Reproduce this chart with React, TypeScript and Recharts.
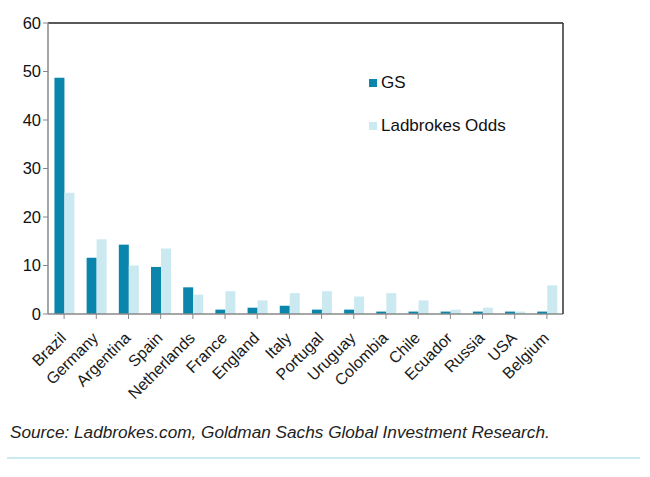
import React from 'react';
import { BarChart, Bar, XAxis, YAxis, ReferenceLine } from 'recharts';

const teams = ['Brazil', 'Germany', 'Argentina', 'Spain', 'Netherlands', 'France', 'England', 'Italy', 'Portugal', 'Uruguay', 'Colombia', 'Chile', 'Ecuador', 'Russia', 'USA', 'Belgium'];
const gsValues = [48.7, 11.6, 14.3, 9.7, 5.5, 0.9, 1.3, 1.7, 0.9, 0.9, 0.5, 0.5, 0.5, 0.5, 0.5, 0.5];
const ladbrokesValues = [25.0, 15.4, 10.0, 13.5, 4.0, 4.7, 2.8, 4.3, 4.7, 3.6, 4.3, 2.8, 0.9, 1.3, 0.5, 5.9];
const yTicks = [0, 10, 20, 30, 40, 50, 60];

const GS_COLOR = '#0a86ad';
const LAD_COLOR = '#cbe9f1';
const FONT = '"Liberation Sans", Arial, sans-serif';

const data = teams.map((team, i) => ({
    team,
    GS: gsValues[i],
    'Ladbrokes Odds': ladbrokesValues[i],
}));

const CountryTick = (props: any) => {
    const { x, y, payload } = props;
    const ax = x + 3;
    const ay = y + 18;
    return (
        <text
            x={ax}
            y={ay}
            textAnchor="end"
            fontSize={16}
            fontFamily={FONT}
            fill="#1a1a1a"
            transform={`rotate(-45, ${ax}, ${ay})`}
        >
            {payload.value}
        </text>
    );
};

export default function App() {
    return (
        <div style={{ position: 'absolute', left: 0, top: 0, width: 650, height: 477, background: '#fff' }}>
            <BarChart
                width={650}
                height={420}
                data={data}
                margin={{ top: 23, right: 86, left: 0, bottom: 0 }}
                barCategoryGap="20%"
                barGap={0}
            >
                <XAxis
                    dataKey="team"
                    interval={0}
                    height={106}
                    tick={<CountryTick />}
                    tickLine={{ stroke: '#888' }}
                    tickSize={5}
                    axisLine={{ stroke: '#888', strokeWidth: 1.5 }}
                />
                <YAxis
                    yAxisId="left"
                    width={48}
                    domain={[0, 60]}
                    ticks={yTicks}
                    interval={0}
                    tickSize={5}
                    tickLine={{ stroke: '#888' }}
                    axisLine={{ stroke: '#888', strokeWidth: 1.5 }}
                    tick={{ fill: '#111', fontSize: 16.5, fontFamily: FONT }}
                />
                <YAxis
                    yAxisId="right"
                    orientation="right"
                    width={1}
                    domain={[0, 60]}
                    tick={false}
                    tickLine={false}
                    axisLine={{ stroke: '#333', strokeWidth: 1.5 }}
                />
                <ReferenceLine yAxisId="left" y={60} stroke="#222" strokeWidth={1.5} />
                <Bar yAxisId="left" dataKey="GS" fill={GS_COLOR} isAnimationActive={false} />
                <Bar yAxisId="left" dataKey="Ladbrokes Odds" fill={LAD_COLOR} isAnimationActive={false} />
            </BarChart>
            <div style={{ position: 'absolute', left: 369, top: 72, fontFamily: FONT, fontSize: 17, color: '#111' }}>
                <div style={{ display: 'flex', alignItems: 'center', height: 22 }}>
                    <span style={{ width: 8, height: 8, background: GS_COLOR, marginRight: 4, display: 'inline-block' }} />
                    GS
                </div>
                <div style={{ display: 'flex', alignItems: 'center', height: 22, marginTop: 21 }}>
                    <span style={{ width: 8, height: 8, background: LAD_COLOR, marginRight: 4, display: 'inline-block' }} />
                    Ladbrokes Odds
                </div>
            </div>
            <div
                style={{
                    position: 'absolute',
                    left: 10,
                    top: 422,
                    fontFamily: FONT,
                    fontStyle: 'italic',
                    fontSize: 17.2,
                    color: '#222',
                }}
            >
                Source: Ladbrokes.com, Goldman Sachs Global Investment Research.
            </div>
            <div style={{ position: 'absolute', left: 7, top: 457, width: 633, height: 2, background: '#cbe9f1' }} />
        </div>
    );
}
